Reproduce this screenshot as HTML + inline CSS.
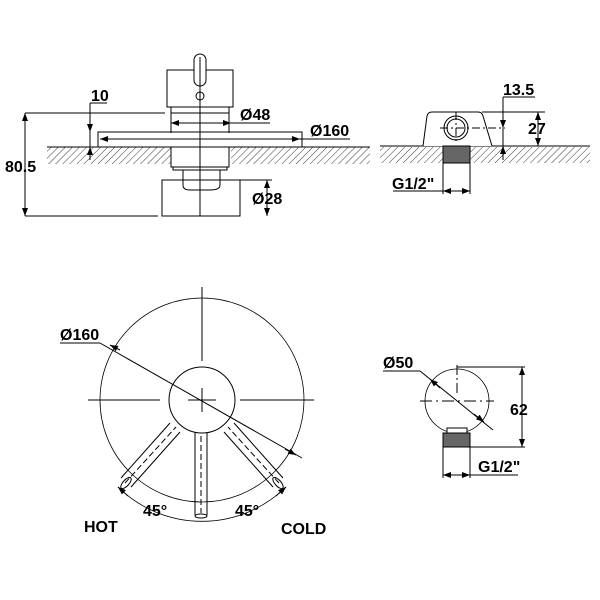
<!DOCTYPE html>
<html><head><meta charset="utf-8"><style>
html,body{margin:0;padding:0;background:#fff}
svg{display:block}
text{font-family:"Liberation Sans",Arial,sans-serif;font-size:16px;fill:#000}
</style></head><body>
<svg width="600" height="600" viewBox="0 0 600 600" xmlns="http://www.w3.org/2000/svg">
<defs>
<pattern id="h" width="5" height="5" patternUnits="userSpaceOnUse" patternTransform="rotate(45)">
<line x1="0" y1="0" x2="0" y2="5" stroke="#222" stroke-width="0.9"/>
</pattern>
<marker id="a" markerWidth="8" markerHeight="6" refX="8" refY="3" orient="auto-start-reverse" markerUnits="userSpaceOnUse">
<path d="M0,0 L8,3 L0,6 z" fill="#000"/>
</marker>
</defs>
<g fill="none" stroke="#000" stroke-width="1">
<!-- TOP LEFT -->
<rect x="47" y="147" width="124" height="17" fill="url(#h)" stroke="none"/>
<rect x="231" y="147" width="139" height="17" fill="url(#h)" stroke="none"/>
<line x1="47" y1="147" x2="171" y2="147"/>
<line x1="231" y1="147" x2="370" y2="147"/>
<rect x="167" y="70" width="66" height="37" fill="#fff"/>
<path d="M194,80 L194,60 A6,6 0 0 1 206,60 L206,80 A6,6 0 0 1 194,80 Z" fill="#fff"/>
<circle cx="200" cy="96" r="4"/>
<path d="M171,107 L171,133 M229,107 L229,133 M171,113 L229,113"/>
<rect x="98" y="132" width="204" height="15"/>
<path d="M171,147 L171,167 L229,167 L229,147 M173,167 L173,170 L227,170 L227,167"/>
<path d="M183,170 L183,185 Q183,190 190,190 L210,190 Q220,190 220,185 L220,170"/>
<rect x="162" y="180" width="78" height="36"/>
<line x1="200" y1="57" x2="200" y2="216"/>
<line x1="25" y1="113" x2="165" y2="113"/>
<line x1="25" y1="216" x2="158" y2="216"/>
<line x1="25" y1="113" x2="25" y2="216" marker-start="url(#a)" marker-end="url(#a)"/>
<line x1="90" y1="103" x2="107" y2="103"/>
<line x1="90" y1="103" x2="90" y2="160"/>
<line x1="90" y1="128" x2="90" y2="132" marker-end="url(#a)"/>
<line x1="90" y1="152" x2="90" y2="147" marker-end="url(#a)"/>
<line x1="171" y1="123" x2="231" y2="123" marker-start="url(#a)" marker-end="url(#a)"/>
<line x1="231" y1="123" x2="270" y2="123"/>
<line x1="100" y1="139" x2="300" y2="139" marker-start="url(#a)" marker-end="url(#a)"/>
<line x1="300" y1="139" x2="350" y2="139"/>
<line x1="240" y1="180" x2="272" y2="180"/>
<line x1="267" y1="180" x2="267" y2="216" marker-start="url(#a)" marker-end="url(#a)"/>

<!-- TOP RIGHT -->
<rect x="380" y="147" width="63" height="16" fill="url(#h)" stroke="none"/>
<rect x="470" y="147" width="120" height="16" fill="url(#h)" stroke="none"/>
<line x1="380" y1="146" x2="443" y2="146"/>
<line x1="470" y1="146" x2="590" y2="146"/>
<path d="M423,146 L427,116 Q428,112 432,112 L478,112 Q482,112 483,116 L492,146" fill="#fff"/>
<circle cx="456" cy="128" r="12"/>
<circle cx="456" cy="128" r="9"/>
<line x1="440" y1="128" x2="505" y2="128" stroke-dasharray="8,3,2,3"/>
<line x1="456" y1="112" x2="456" y2="144" stroke-dasharray="8,3,2,3"/>
<rect x="443" y="146" width="27" height="17" fill="#666"/>
<path d="M443,163 L443,194 M470,163 L470,194"/>
<line x1="443" y1="191" x2="470" y2="191" marker-start="url(#a)" marker-end="url(#a)"/>
<line x1="393" y1="191" x2="443" y2="191"/>
<line x1="503" y1="97" x2="535" y2="97"/>
<line x1="503" y1="97" x2="503" y2="160"/>
<line x1="503" y1="120" x2="503" y2="128" marker-end="url(#a)"/>
<line x1="503" y1="155" x2="503" y2="146" marker-end="url(#a)"/>
<line x1="482" y1="112" x2="545" y2="112"/>
<line x1="538" y1="112" x2="538" y2="146" marker-start="url(#a)" marker-end="url(#a)"/>

<!-- BOTTOM LEFT -->
<circle cx="202" cy="400" r="102" stroke-width="0.8"/>
<path d="M121,478 L170,423 M131,487 L180,432" fill="#fff"/>
<path d="M283,478 L234,423 M273,487 L224,432"/>
<path d="M125,483 L176,427 M279,483 L228,427" stroke-dasharray="6,3"/>
<ellipse cx="126" cy="483" rx="7" ry="3" transform="rotate(-48 126 483)"/>
<ellipse cx="278" cy="483" rx="7" ry="3" transform="rotate(48 278 483)"/>
<path d="M195,433 L195,515 M207,433 L207,515"/>
<line x1="201" y1="436" x2="201" y2="513" stroke-dasharray="6,3"/>
<ellipse cx="201" cy="516" rx="6" ry="2"/>
<circle cx="202" cy="400" r="33" fill="#fff"/>
<line x1="202" y1="287" x2="202" y2="361"/>
<line x1="202" y1="388" x2="202" y2="412"/>
<line x1="88" y1="400" x2="160" y2="400"/>
<line x1="188" y1="400" x2="216" y2="400"/>
<line x1="240" y1="400" x2="314" y2="400"/>
<line x1="60" y1="343" x2="100" y2="343"/>
<line x1="100" y1="343" x2="302" y2="458"/>
<line x1="120" y1="350" x2="110" y2="345" marker-end="url(#a)"/>
<line x1="285" y1="449" x2="296" y2="455" marker-end="url(#a)"/>
<path d="M118,487 A120,120 0 0 0 286,487" stroke-width="0.8"/>
<line x1="128" y1="496" x2="118" y2="487" marker-end="url(#a)"/>
<line x1="276" y1="496" x2="286" y2="487" marker-end="url(#a)"/>

<!-- BOTTOM RIGHT -->
<circle cx="457" cy="401" r="32" stroke-width="0.8"/>
<line x1="457" y1="365" x2="457" y2="395" stroke-dasharray="10,3,2,3"/>
<line x1="420" y1="401" x2="494" y2="401" stroke-dasharray="12,4,2,4"/>
<rect x="447" y="428" width="20" height="5" fill="#fff"/>
<rect x="443" y="433" width="27" height="14" fill="#666"/>
<path d="M443,447 L443,478 M470,447 L470,478"/>
<line x1="443" y1="475" x2="470" y2="475" marker-start="url(#a)" marker-end="url(#a)"/>
<line x1="470" y1="475" x2="518" y2="475"/>
<line x1="383" y1="371" x2="420" y2="371"/>
<line x1="420" y1="371" x2="493" y2="430"/>
<line x1="440" y1="388" x2="430" y2="379" marker-end="url(#a)"/>
<line x1="474" y1="414" x2="484" y2="422" marker-end="url(#a)"/>
<line x1="457" y1="367" x2="525" y2="367"/>
<line x1="470" y1="447" x2="525" y2="447"/>
<line x1="522" y1="367" x2="522" y2="447" marker-start="url(#a)" marker-end="url(#a)"/>
</g>
<g font-weight="bold">
<text x="91" y="101">10</text>
<text x="240" y="120">Ø48</text>
<text x="310" y="136">Ø160</text>
<text x="5" y="172">80.5</text>
<text x="252" y="204">Ø28</text>
<text x="503" y="95">13.5</text>
<text x="528" y="134">27</text>
<text x="392" y="189">G1/2"</text>
<text x="60" y="340">Ø160</text>
<text x="143" y="516">45°</text>
<text x="235" y="516">45°</text>
<text x="84" y="532">HOT</text>
<text x="281" y="534">COLD</text>
<text x="383" y="368">Ø50</text>
<text x="510" y="415">62</text>
<text x="478" y="472">G1/2"</text>
</g>
</svg>
</body></html>
